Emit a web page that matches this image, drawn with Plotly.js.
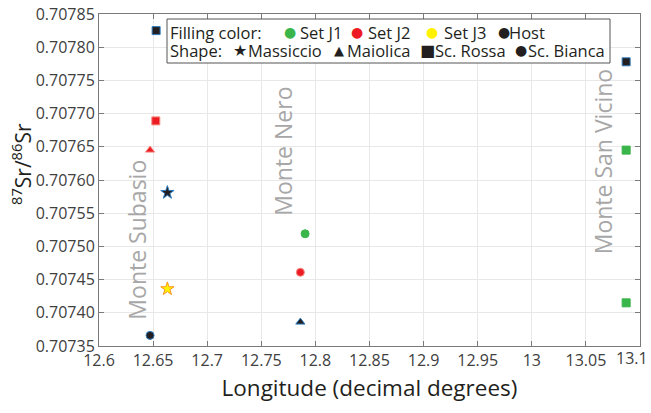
<!DOCTYPE html>
<html><head><meta charset="utf-8">
<script src="https://cdn.plot.ly/plotly-3.0.1.min.js"></script>
<style>html,body{margin:0;padding:0;background:#fff}#c{width:651px;height:413px}</style>
</head><body><div id="c"></div>
<script>
// Data
const longitude = [12.6528, 12.6525, 12.6472, 12.6632, 12.6632, 12.6472, 12.7905, 12.7861, 12.7861, 13.0872, 13.0872, 13.0872];
const srRatio   = [0.707825, 0.707689, 0.707645, 0.707581, 0.707436, 0.707366, 0.707519, 0.707461, 0.707386, 0.707778, 0.707645, 0.707415];
const fillSet   = ["Host", "Set J2", "Set J2", "Host", "Set J3", "Host", "Set J1", "Set J2", "Host", "Host", "Set J1", "Set J1"];
const shapeType = ["Sc. Rossa", "Sc. Rossa", "Maiolica", "Massiccio", "Massiccio", "Sc. Bianca", "Sc. Bianca", "Sc. Bianca", "Maiolica", "Sc. Rossa", "Sc. Rossa", "Sc. Rossa"];
const siteNames = ["Monte Subasio", "Monte Nero", "Monte San Vicino"];
const siteLon   = [12.635, 12.770, 13.066];
const siteSr    = [0.707510, 0.707644, 0.707627];
const fillNames = ["Set J1", "Set J2", "Set J3", "Host"];
const shapeNames = ["Massiccio", "Maiolica", "Sc. Rossa", "Sc. Bianca"];
const xTicks = [12.6, 12.65, 12.7, 12.75, 12.8, 12.85, 12.9, 12.95, 13, 13.05, 13.1];
const yTicks = [0.70735, 0.70740, 0.70745, 0.70750, 0.70755, 0.70760, 0.70765, 0.70770, 0.70775, 0.70780, 0.70785];

// Styles
const fillColor = {"Set J1": "#39b54a", "Set J2": "#ed1c24", "Set J3": "#fff200", "Host": "#231f20"};
const edgeColor = {"Set J1": "#39b54a", "Set J2": "#f58a7e", "Set J3": "#f7941d", "Host": "#2e7dc0"};
const shapeSym = {"Massiccio": "star", "Maiolica": "triangle-up", "Sc. Rossa": "square", "Sc. Bianca": "circle"};
const shapeSize = {"Massiccio": 10, "Maiolica": 8, "Sc. Rossa": 8, "Sc. Bianca": 8};
const shapeGlyph = {"Massiccio": "★", "Maiolica": "▲", "Sc. Rossa": "■", "Sc. Bianca": "●"};

const FONT = "Open Sans, sans-serif";
const trace = {
  type: "scatter", mode: "markers", x: longitude, y: srRatio, showlegend: false, hoverinfo: "skip",
  marker: {
    opacity: 1,
    symbol: shapeType.map(s => shapeSym[s]),
    size: shapeType.map(s => shapeSize[s]),
    color: fillSet.map(f => fillColor[f]),
    line: {width: 1, color: fillSet.map(f => edgeColor[f])}
  }
};

// plot area in pixels: x 99..640, y 14..346
const W = 541, H = 332, L = 99, T = 14;
const px = x => (x - L) / W, py = y => (T + H - y) / H;
const ann = (x, y, text, font, xanchor) => ({x: px(x), y: py(y), xref: "paper", yref: "paper",
  xanchor: xanchor || "center", yanchor: "middle", text: text, showarrow: false, font: font});

const annotations = [];
siteNames.forEach((n, i) => annotations.push({
  x: siteLon[i], y: siteSr[i], xref: "x", yref: "y", xanchor: "center", yanchor: "middle",
  text: n, textangle: -90, showarrow: false,
  font: {family: FONT, size: 23, color: "#a7a7a7"}
}));
const LF = {family: FONT, size: 16.5, color: "#231f20"};
annotations.push(ann(168, 32, "Filling color:", LF, "left"));
annotations.push(ann(168, 50, "Shape:", LF, "left"));
const fillGlyphX = [290, 357, 432, 504], fillTextX = [298, 366, 442, 507];
fillNames.forEach((n, i) => {
  annotations.push(ann(fillGlyphX[i], 32, "●", {family: "DejaVu Sans", size: 14, color: fillColor[n]}));
  annotations.push(ann(fillTextX[i], 32, n, LF, "left"));
});
const shapeGlyphX = [240, 339, 427, 521], shapeTextX = [246, 345, 433, 526];
const glyphSize = {"Massiccio": 16, "Maiolica": 13, "Sc. Rossa": 16, "Sc. Bianca": 14};
shapeNames.forEach((n, i) => {
  annotations.push(ann(shapeGlyphX[i], 50, shapeGlyph[n], {family: "DejaVu Sans", size: glyphSize[n], color: "#231f20"}));
  annotations.push(ann(shapeTextX[i], 50, n, LF, "left"));
});
// y-axis title
annotations.push({x: px(22), y: py(164), xref: "paper", yref: "paper", xanchor: "center", yanchor: "middle",
  text: "<sup>87</sup>Sr/<sup>86</sup>Sr", textangle: -90, showarrow: false,
  font: {family: FONT, size: 21, color: "#231f20"}});
// last x tick label, shifted left so it stays inside the page
const lastTick = xTicks[xTicks.length - 1];
annotations.push({x: lastTick, y: py(358), xref: "x", yref: "paper", xanchor: "right", yanchor: "middle",
  xshift: 10, text: String(lastTick), showarrow: false, font: {family: FONT, size: 16, color: "#404040"}});

const layout = {
  width: 651, height: 413, paper_bgcolor: "#fff", plot_bgcolor: "#fff",
  margin: {l: 99, r: 11, t: 14, b: 67},
  font: {family: FONT, color: "#404040"},
  xaxis: {
    range: [12.6, 13.1], tickvals: xTicks,
    ticktext: xTicks.map((v, i) => i === xTicks.length - 1 ? "" : String(v)),
    showgrid: true, gridcolor: "#e8e8e8", zeroline: false,
    showline: true, linecolor: "#7a7a7a", linewidth: 1, mirror: "allticks",
    ticks: "inside", ticklen: 5, tickcolor: "#7a7a7a",
    tickfont: {family: FONT, size: 16, color: "#404040"},
    title: {text: "Longitude (decimal degrees)", font: {family: FONT, size: 22.5, color: "#231f20"}, standoff: 10}
  },
  yaxis: {
    range: [0.70735, 0.70785], tickvals: yTicks, ticktext: yTicks.map(v => v.toFixed(5)),
    showgrid: true, gridcolor: "#e8e8e8", zeroline: false,
    showline: true, linecolor: "#7a7a7a", linewidth: 1, mirror: "allticks",
    ticks: "inside", ticklen: 5, tickcolor: "#7a7a7a",
    tickfont: {family: FONT, size: 16, color: "#404040"}
  },
  shapes: [{type: "rect", xref: "paper", yref: "paper", x0: px(167), x1: px(610), y0: py(63), y1: py(19),
    line: {color: "#555", width: 1}, fillcolor: "#fff", layer: "above"}],
  annotations: annotations
};
Plotly.newPlot("c", [trace], layout, {staticPlot: true, displayModeBar: false});
</script></body></html>
